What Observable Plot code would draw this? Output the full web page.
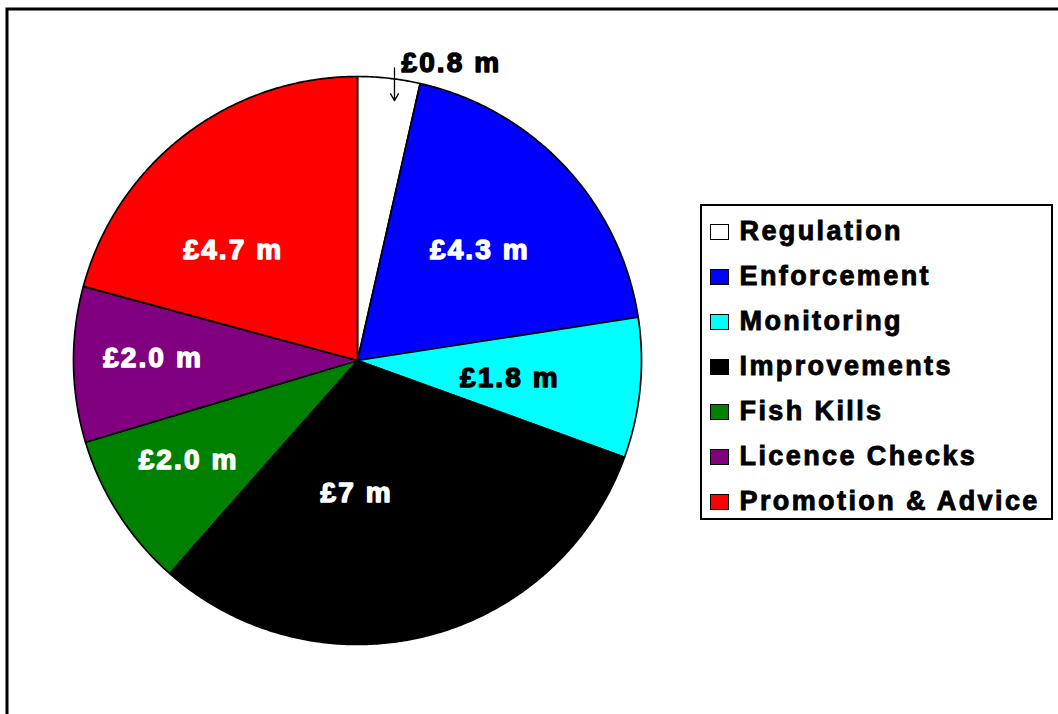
<!DOCTYPE html>
<html><head><meta charset="utf-8">
<script src="https://cdn.jsdelivr.net/npm/d3@7"></script>
<script src="https://cdn.jsdelivr.net/npm/@observablehq/plot@0.6"></script>
<style>
body{margin:0;background:#fff;}
#wrap{position:relative;width:1058px;height:714px;overflow:hidden;font-family:"Liberation Sans",Arial,sans-serif;font-weight:bold;background:#fff;}
#legend{position:absolute;left:700px;top:204px;width:353px;height:316px;border:2.5px solid #000;box-sizing:border-box;padding-top:3px;background:#fff;}
.row{display:flex;align-items:center;height:45px;}
.sw{width:19px;height:16px;border:1.5px solid #000;box-sizing:border-box;margin-left:7.5px;flex:none;}
.lab{margin-left:11px;font-size:27px;letter-spacing:2.4px;color:#000;line-height:1;white-space:nowrap;-webkit-text-stroke:0.9px #000;}
</style></head><body><div id="wrap"></div>
<script>
// ---- data ----
const categories = ["Regulation", "Enforcement", "Monitoring", "Improvements", "Fish Kills", "Licence Checks", "Promotion & Advice"];
const values = [0.8, 4.3, 1.8, 7, 2.0, 2.0, 4.7];
const valueLabels = ["£0.8 m", "£4.3 m", "£1.8 m", "£7 m", "£2.0 m", "£2.0 m", "£4.7 m"];
const colors = ["#ffffff", "#0000ff", "#00ffff", "#000000", "#008000", "#800080", "#ff0000"];
const labelColors = ["#000000", "#ffffff", "#000000", "#ffffff", "#ffffff", "#ffffff", "#ffffff"];

// ---- layout ----
const W = 1058, H = 714, CX = 357, CY = 360, R = 284;
// label placement per slice: [angle offset from slice middle (deg), radius fraction]
const labelPlacement = [[0, 0], [1, 0.58], [1, 0.54], [14.7, 0.465], [2.2, 0.69], [1.4, 0.72], [-10.9, 0.585]];

const pie = d3.pie().sort(null).startAngle(0).endAngle(2 * Math.PI)(values);

const slicePts = [];
pie.forEach((p, i) => {
  const name = categories[i], color = colors[i];
  slicePts.push({name, color, x: 0, y: 0});
  const n = Math.max(2, Math.ceil((p.endAngle - p.startAngle) / (Math.PI / 360)));
  for (let k = 0; k <= n; k++) {
    const a = p.startAngle + (p.endAngle - p.startAngle) * k / n;
    slicePts.push({name, color, x: Math.sin(a), y: Math.cos(a)});
  }
});

const labels = pie.slice(1).map((p, j) => {
  const i = j + 1;
  const a = (p.startAngle + p.endAngle) / 2 + labelPlacement[i][0] * Math.PI / 180;
  const r = labelPlacement[i][1];
  return {text: valueLabels[i], color: labelColors[i], x: r * Math.sin(a), y: r * Math.cos(a)};
});

// arrow for the small slice
const reg = pie[0];
const aArrow = reg.startAngle + (reg.endAngle - reg.startAngle) * 0.57;
const arrowData = [{x1: 1.03 * Math.sin(aArrow), y1: 1.03, x2: 1.03 * Math.sin(aArrow), y2: 0.915, text: valueLabels[0]}];

const chart = Plot.plot({
  width: W, height: H,
  marginLeft: 0, marginRight: 0, marginTop: 0, marginBottom: 0,
  x: {domain: [-CX / R, (W - CX) / R], axis: null},
  y: {domain: [-(H - CY) / R, CY / R], axis: null},
  color: {type: "identity"},
  style: {fontFamily: "'Liberation Sans', Arial, sans-serif", fontWeight: "bold", letterSpacing: "2.1px", background: "#fff", overflow: "hidden"},
  marks: [
    Plot.frame({stroke: "#000", strokeWidth: 3, insetLeft: 6.5, insetTop: 8.5, insetRight: -10, insetBottom: -10}),
    Plot.line(slicePts, {x: "x", y: "y", z: "name", fill: "color", stroke: "#000", strokeWidth: 1.7, curve: "linear-closed", strokeLinejoin: "round"}),
    Plot.text(labels, {x: "x", y: "y", text: "text", fill: "color", stroke: "color", strokeWidth: 1.4, fontSize: 28, fontWeight: "bold"}),
    Plot.arrow(arrowData, {x1: "x1", y1: "y1", x2: "x2", y2: "y2", stroke: "#000", strokeWidth: 1.3, headLength: 9}),
    Plot.text(arrowData, {x: "x1", y: "y1", text: "text", textAnchor: "start", dx: 7, dy: -5, fill: "#000", stroke: "#000", strokeWidth: 1.4, fontSize: 28, fontWeight: "bold"})
  ]
});

const wrap = document.getElementById("wrap");
chart.style.position = "absolute";
chart.style.left = "0px";
chart.style.top = "0px";
wrap.appendChild(chart);

const legend = document.createElement("div");
legend.id = "legend";
categories.forEach((c, i) => {
  const row = document.createElement("div");
  row.className = "row";
  const sw = document.createElement("div");
  sw.className = "sw";
  sw.style.background = colors[i];
  const lab = document.createElement("span");
  lab.className = "lab";
  lab.textContent = c;
  row.appendChild(sw);
  row.appendChild(lab);
  legend.appendChild(row);
});
wrap.appendChild(legend);
</script>
</body></html>
